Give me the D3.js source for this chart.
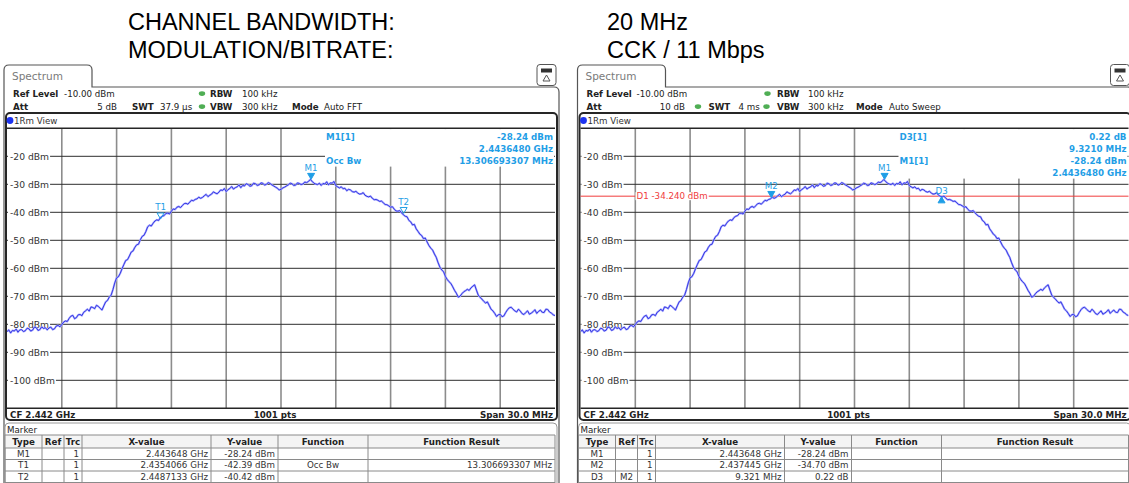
<!DOCTYPE html>
<meta charset="utf-8">
<head>
<style>
  body { margin: 0; background: #fff; }
  svg { display: block; font-family: "DejaVu Sans", Verdana, sans-serif; }
</style>
</head>
<script src="https://cdn.jsdelivr.net/npm/d3@7"></script>
<body>
<div id="chart"></div>
<script>
// ---- data ----
var titleLabels = ["CHANNEL BANDWIDTH:", "MODULATION/BITRATE:"];
var titleValues = ["20 MHz", "CCK / 11 Mbps"];

// level axis (dBm), ref level -10, 10 dB/div
var yDomain = [-110, -10];
var yTicks = [-20, -30, -40, -50, -60, -70, -80, -90, -100];
// frequency offset from CF 2.442 GHz (MHz), span 30 MHz, 3 MHz/div
var xDomain = [-15, 15];
var xTicks = [-12, -9, -6, -3, 0, 3, 6, 9, 12];

// trace 1 (same sweep in both screens): [offset MHz, dBm]
var trace = [
  [-15.0, -82.6], [-14.9, -82.0], [-14.8, -83.1], [-14.7, -82.2], [-14.6, -82.4], [-14.5, -81.7],
  [-14.4, -82.8], [-14.3, -82.0], [-14.2, -81.9], [-14.1, -82.6], [-14.0, -82.3], [-13.9, -81.4],
  [-13.8, -81.6], [-13.7, -82.4], [-13.6, -82.1], [-13.5, -81.0], [-13.4, -81.2], [-13.3, -82.2],
  [-13.2, -81.9], [-13.1, -80.9], [-13.0, -81.5], [-12.9, -81.2], [-12.8, -82.0], [-12.7, -81.3],
  [-12.6, -81.0], [-12.5, -81.9], [-12.4, -81.6], [-12.3, -80.6], [-12.2, -80.4], [-12.1, -80.9],
  [-12.0, -80.1], [-11.9, -79.2], [-11.8, -78.8], [-11.7, -79.0], [-11.6, -77.9], [-11.5, -77.1],
  [-11.4, -76.8], [-11.3, -78.0], [-11.2, -77.6], [-11.1, -76.6], [-11.0, -76.5], [-10.9, -76.9],
  [-10.8, -75.7], [-10.7, -75.2], [-10.6, -74.6], [-10.5, -75.3], [-10.4, -73.8], [-10.3, -74.0],
  [-10.2, -74.4], [-10.1, -73.2], [-10.0, -73.6], [-9.9, -74.3], [-9.8, -74.9], [-9.7, -73.4],
  [-9.6, -72.0], [-9.5, -71.5], [-9.4, -70.3], [-9.3, -69.6], [-9.2, -67.6], [-9.1, -65.2],
  [-9.0, -63.4], [-8.9, -63.0], [-8.8, -61.8], [-8.7, -60.1], [-8.6, -58.6], [-8.5, -57.2],
  [-8.4, -56.9], [-8.3, -55.6], [-8.2, -54.2], [-8.1, -53.8], [-8.0, -52.5], [-7.9, -51.6],
  [-7.8, -51.4], [-7.7, -49.8], [-7.6, -48.6], [-7.5, -48.2], [-7.4, -46.9], [-7.3, -45.2],
  [-7.2, -44.6], [-7.1, -44.9], [-7.0, -43.9], [-6.9, -43.1], [-6.8, -42.7], [-6.7, -42.9],
  [-6.6, -41.9], [-6.5, -41.4], [-6.4, -41.2], [-6.3, -40.4], [-6.2, -40.3], [-6.1, -40.6],
  [-6.0, -39.6], [-5.9, -38.8], [-5.8, -39.0], [-5.7, -38.2], [-5.6, -37.9], [-5.5, -38.3],
  [-5.4, -37.6], [-5.3, -36.9], [-5.2, -36.8], [-5.1, -37.1], [-5.0, -36.4], [-4.9, -35.7],
  [-4.8, -35.9], [-4.7, -35.4], [-4.6, -35.2], [-4.5, -34.6], [-4.4, -35.0], [-4.3, -34.7],
  [-4.2, -34.1], [-4.1, -33.6], [-4.0, -34.4], [-3.9, -33.9], [-3.8, -33.5], [-3.7, -32.7],
  [-3.6, -33.1], [-3.5, -33.4], [-3.4, -32.8], [-3.3, -32.0], [-3.2, -32.2], [-3.1, -31.5],
  [-3.0, -32.6], [-2.9, -31.9], [-2.8, -31.5], [-2.7, -30.8], [-2.6, -31.7], [-2.5, -31.2],
  [-2.4, -30.9], [-2.3, -30.2], [-2.2, -31.2], [-2.1, -30.4], [-2.0, -30.6], [-1.9, -29.8],
  [-1.8, -30.1], [-1.7, -30.7], [-1.6, -30.5], [-1.5, -29.6], [-1.4, -29.8], [-1.3, -30.4],
  [-1.2, -30.2], [-1.1, -29.5], [-1.0, -29.6], [-0.9, -30.3], [-0.8, -30.0], [-0.7, -29.4],
  [-0.6, -29.7], [-0.5, -30.2], [-0.4, -30.6], [-0.3, -31.0], [-0.2, -31.4], [-0.1, -32.0],
  [0.0, -31.8], [0.1, -31.3], [0.2, -31.0], [0.3, -30.6], [0.4, -30.2], [0.5, -29.6],
  [0.6, -29.8], [0.7, -30.4], [0.8, -30.3], [0.9, -29.5], [1.0, -29.7], [1.1, -30.1],
  [1.2, -29.9], [1.3, -29.2], [1.4, -29.4], [1.5, -29.0], [1.6, -28.3], [1.7, -28.9],
  [1.8, -29.6], [1.9, -29.9], [2.0, -30.1], [2.1, -29.6], [2.2, -30.4], [2.3, -29.7],
  [2.4, -29.9], [2.5, -29.1], [2.6, -30.2], [2.7, -29.5], [2.8, -29.6], [2.9, -29.0],
  [3.0, -30.5], [3.1, -30.9], [3.2, -31.3], [3.3, -30.9], [3.4, -31.6], [3.5, -31.4],
  [3.6, -32.3], [3.7, -31.8], [3.8, -32.0], [3.9, -32.6], [4.0, -32.8], [4.1, -32.5],
  [4.2, -33.1], [4.3, -33.5], [4.4, -33.4], [4.5, -33.0], [4.6, -33.9], [4.7, -34.3],
  [4.8, -34.5], [4.9, -34.2], [5.0, -35.0], [5.1, -35.5], [5.2, -35.4], [5.3, -35.7],
  [5.4, -36.1], [5.5, -36.0], [5.6, -36.6], [5.7, -37.2], [5.8, -37.3], [5.9, -37.7],
  [6.0, -38.2], [6.1, -38.0], [6.2, -38.9], [6.3, -39.5], [6.4, -39.6], [6.5, -39.4],
  [6.6, -40.2], [6.7, -40.9], [6.8, -41.4], [6.9, -41.6], [7.0, -42.9], [7.1, -43.4],
  [7.2, -44.5], [7.3, -44.3], [7.4, -45.9], [7.5, -46.8], [7.6, -47.8], [7.7, -48.3],
  [7.8, -49.4], [7.9, -49.2], [8.0, -50.6], [8.1, -51.9], [8.2, -52.8], [8.3, -53.5],
  [8.4, -54.9], [8.5, -56.1], [8.6, -58.0], [8.7, -59.6], [8.8, -60.6], [8.9, -61.2],
  [9.0, -62.9], [9.1, -64.0], [9.2, -64.8], [9.3, -65.4], [9.4, -66.6], [9.5, -67.9],
  [9.6, -68.9], [9.7, -70.3], [9.8, -70.0], [9.9, -69.1], [10.0, -68.4], [10.1, -68.0],
  [10.2, -67.5], [10.3, -67.9], [10.4, -67.0], [10.5, -66.4], [10.6, -65.9], [10.7, -67.8],
  [10.8, -69.6], [10.9, -70.4], [11.0, -71.0], [11.1, -71.8], [11.2, -72.4], [11.3, -72.0],
  [11.4, -73.3], [11.5, -74.6], [11.6, -75.2], [11.7, -76.1], [11.8, -77.2], [11.9, -76.6],
  [12.0, -76.4], [12.1, -77.3], [12.2, -77.0], [12.3, -75.8], [12.4, -74.8], [12.5, -74.1],
  [12.6, -73.9], [12.7, -74.6], [12.8, -75.2], [12.9, -75.6], [13.0, -74.6], [13.1, -75.3],
  [13.2, -76.2], [13.3, -76.5], [13.4, -75.8], [13.5, -75.2], [13.6, -76.4], [13.7, -76.0],
  [13.8, -75.5], [13.9, -74.8], [14.0, -76.1], [14.1, -75.4], [14.2, -74.9], [14.3, -75.7],
  [14.4, -75.8], [14.5, -74.6], [14.6, -74.7], [14.7, -75.6], [14.8, -76.0], [14.9, -76.6],
  [15.0, -76.9]
];

// markers: name, offset MHz, level dBm, symbol
var leftMarkers = [
  { name: "M1", f: 1.648, dbm: -28.24, sym: "down" },
  { name: "T1", f: -6.5934, dbm: -42.39, sym: "hollow" },
  { name: "T2", f: 6.7133, dbm: -40.42, sym: "hollow" }
];
var rightMarkers = [
  { name: "M1", f: 1.648, dbm: -28.24, sym: "down" },
  { name: "M2", f: -4.555, dbm: -34.70, sym: "down" },
  { name: "D3", f: 4.766, dbm: -34.48, sym: "up" }
];
var rightDisplayLine = { name: "D1", dbm: -34.24, label: "D1  -34.240 dBm" };

// marker readouts in the upper right of the diagram
var leftReadout = [
  ["M1[1]", "-28.24 dBm"], ["", "2.4436480 GHz"], ["Occ Bw", "13.306693307 MHz"]
];
var rightReadout = [
  ["D3[1]", "0.22 dB"], ["", "9.3210 MHz"], ["M1[1]", "-28.24 dBm"], ["", "2.4436480 GHz"]
];

// marker tables
var tableHead = ["Type", "Ref", "Trc", "X-value", "Y-value", "Function", "Function Result"];
var leftTable = [
  ["M1", "", "1", "2.443648 GHz", "-28.24 dBm", "", ""],
  ["T1", "", "1", "2.4354066 GHz", "-42.39 dBm", "Occ Bw", "13.306693307 MHz"],
  ["T2", "", "1", "2.4487133 GHz", "-40.42 dBm", "", ""]
];
var rightTable = [
  ["M1", "", "1", "2.443648 GHz", "-28.24 dBm", "", ""],
  ["M2", "", "1", "2.437445 GHz", "-34.70 dBm", "", ""],
  ["D3", "M2", "1", "9.321 MHz", "0.22 dB", "", ""]
];

// setting bars: [text, x, row, bold, anchor]
var leftSettings = [
  ["Ref Level", 13, 0, true], ["-10.00 dBm", 64, 0], ["RBW", 210, 0, true], ["100 kHz", 242, 0],
  ["Att", 13, 1, true], ["5 dB", 117, 1, false, "end"], ["SWT", 132, 1, true], ["37.9 \u00b5s", 160, 1],
  ["VBW", 210, 1, true], ["300 kHz", 242, 1], ["Mode", 292, 1, true], ["Auto FFT", 324, 1]
];
var leftDots = [[202, 0], [202, 1]];
var rightSettings = [
  ["Ref Level", 13, 0, true], ["-10.00 dBm", 63, 0], ["RBW", 203.5, 0, true], ["100 kHz", 234.5, 0],
  ["Att", 13, 1, true], ["10 dB", 111.5, 1, false, "end"], ["SWT", 135, 1, true], ["4 ms", 165, 1],
  ["VBW", 203.5, 1, true], ["300 kHz", 234.5, 1], ["Mode", 282.5, 1, true], ["Auto Sweep", 315.5, 1]
];
var rightDots = [[194, 0], [124.5, 1], [193, 1]];

// ---- drawing ----
var W = 1129, H = 483;
var svg = d3.select("#chart").append("svg")
  .attr("width", W).attr("height", H);

svg.append("rect").attr("width", W).attr("height", H).attr("fill", "#fff");

// title block
var title = svg.append("g").style("font-family", "'Liberation Sans', Arial, sans-serif")
  .style("font-size", "23.5px");
titleLabels.forEach(function(t, i) {
  title.append("text").attr("x", 128).attr("y", 30 + i * 28).text(t);
});
titleValues.forEach(function(t, i) {
  title.append("text").attr("x", 607).attr("y", 30 + i * 28).text(t);
});

var blue = "#1f9ee6";
var plotL = 7, plotR = 555, plotT = 128.3, plotB = 408.3;

function drawPanel(ox, cfg) {
  var g = svg.append("g").attr("transform", "translate(" + ox + ",0)");

  var x = d3.scaleLinear().domain(xDomain).range([plotL, plotR]);
  var y = d3.scaleLinear().domain(yDomain).range([plotB, plotT]);

  // outer window outline with the "Spectrum" tab
  g.append("path")
    .attr("d", "M4,490 L4,70 Q4,65 9,65 L87,65 Q92,65 92,70 L92,87 L554,87 Q559,87 559,92 L559,490")
    .attr("fill", "none").attr("stroke", "#555").attr("stroke-width", 1.2);
  g.append("text").attr("x", 12).attr("y", 80).attr("fill", "#7a7a7a")
    .style("font-size", "10.5px").text("Spectrum");

  // small icon top right
  var ic = g.append("g");
  ic.append("rect").attr("x", 537).attr("y", 64.5).attr("width", 19).attr("height", 21).attr("rx", 3)
    .attr("fill", "#fff").attr("stroke", "#555");
  ic.append("rect").attr("x", 541).attr("y", 68.5).attr("width", 11).attr("height", 4).attr("fill", "#333");
  ic.append("path").attr("d", "M546.5,75 L543,81 L550,81 Z").attr("fill", "none").attr("stroke", "#555");

  // setting rows
  cfg.settings.forEach(function(s) {
    g.append("text").attr("x", s[1]).attr("y", 96.5 + s[2] * 13)
      .attr("text-anchor", s[4] || "start")
      .attr("fill", "#222")
      .style("font-size", "8.7px")
      .style("font-weight", s[3] ? "bold" : "normal")
      .text(s[0]);
  });
  cfg.dots.forEach(function(d) {
    g.append("ellipse").attr("cx", d[0]).attr("cy", 93.6 + d[1] * 13)
      .attr("rx", 3.2).attr("ry", 2.3).attr("fill", "#4fae54");
  });

  // diagram frame
  g.append("rect").attr("x", 6).attr("y", 113).attr("width", 551).attr("height", 307).attr("rx", 4)
    .attr("fill", "#fff").attr("stroke", "#262626").attr("stroke-width", 2);
  g.append("circle").attr("cx", 10).attr("cy", 120.5).attr("r", 3.4).attr("fill", "#1d33f0");
  g.append("text").attr("x", 14).attr("y", 123.5).attr("fill", "#333").style("font-size", "8.7px").text("1Rm View");

  // grid
  g.append("g").selectAll("line").data(xTicks).join("line")
    .attr("x1", function(d) { return x(d); }).attr("x2", function(d) { return x(d); })
    .attr("y1", plotT).attr("y2", plotB)
    .attr("stroke", "#8c8c8c").attr("stroke-width", 1.6);
  g.append("g").selectAll("line").data(yTicks).join("line")
    .attr("x1", plotL).attr("x2", plotR)
    .attr("y1", function(d) { return y(d); }).attr("y2", function(d) { return y(d); })
    .attr("stroke", "#2e2e2e").attr("stroke-width", 1);
  g.append("line").attr("x1", plotL).attr("x2", plotR).attr("y1", plotT).attr("y2", plotT)
    .attr("stroke", "#262626").attr("stroke-width", 1.4);
  g.append("line").attr("x1", plotL).attr("x2", plotR).attr("y1", plotB).attr("y2", plotB)
    .attr("stroke", "#262626").attr("stroke-width", 1.4);

  // readout box covers the grid
  g.append("rect").attr("x", 325).attr("y", plotT + 0.8)
    .attr("width", plotR - 325 - 1).attr("height", cfg.readout.length * 12 + 1.5).attr("fill", "#fff");

  // level labels
  var yl = g.append("g");
  yTicks.forEach(function(d) {
    var t = yl.append("text").attr("x", 10).attr("y", y(d) + 3.2)
      .attr("fill", "#333").style("font-size", "9.2px").text(d + " dBm");
    var bb = t.node().getBBox();
    yl.insert("rect", "text").attr("x", 8).attr("y", y(d) - 4)
      .attr("width", bb.x + bb.width - 8 + 1).attr("height", 8).attr("fill", "#fff");
  });

  // display line
  if (cfg.dline) {
    g.append("line").attr("x1", plotL).attr("x2", plotR)
      .attr("y1", y(cfg.dline.dbm)).attr("y2", y(cfg.dline.dbm))
      .attr("stroke", "#f03c3c").attr("stroke-width", 1);
    var dt = g.append("text").attr("x", 63).attr("y", y(cfg.dline.dbm) + 3)
      .attr("fill", "#f03c3c").style("font-size", "8.7px").text(cfg.dline.label);
    var db = dt.node().getBBox();
    g.insert("rect", function() { return dt.node(); })
      .attr("x", db.x - 1).attr("y", db.y + 1).attr("width", db.width + 2).attr("height", db.height - 2)
      .attr("fill", "#fff");
  }

  // trace
  var clipId = "clip" + Math.round(ox);
  g.append("clipPath").attr("id", clipId).append("rect")
    .attr("x", plotL).attr("y", plotT).attr("width", plotR - plotL).attr("height", plotB - plotT);
  var line = d3.line().x(function(d) { return x(d[0]); }).y(function(d) { return y(d[1]); });
  var tg = g.append("g").attr("clip-path", "url(#" + clipId + ")");
  tg.append("path").datum(trace).attr("d", line).attr("fill", "none")
    .attr("stroke", "#a9adff").attr("stroke-width", 2).attr("stroke-linejoin", "round");
  tg.append("path").datum(trace).attr("d", line).attr("fill", "none")
    .attr("stroke", "#2c2ce0").attr("stroke-width", 0.9).attr("stroke-linejoin", "round");

  // markers
  cfg.markers.forEach(function(m) {
    var mx = x(m.f), my = y(m.dbm);
    var p, ly;
    if (m.sym === "up") {
      p = "M" + mx + "," + my + " l-3.5,6 l7,0 z";
      ly = my - 3;
    } else {
      p = "M" + mx + "," + my + " l-3.5,-6 l7,0 z";
      ly = my - 8.5;
    }
    g.append("path").attr("d", p)
      .attr("fill", m.sym === "hollow" ? "none" : blue)
      .attr("stroke", blue).attr("stroke-width", 1);
    g.append("text").attr("x", mx).attr("y", ly).attr("text-anchor", "middle")
      .attr("fill", blue).style("font-size", "8.7px").text(m.name);
  });

  // readout text
  cfg.readout.forEach(function(r, i) {
    if (r[0]) g.append("text").attr("x", 326).attr("y", 139.5 + i * 12)
      .attr("fill", blue).style("font-size", "8.7px").style("font-weight", "bold").text(r[0]);
    g.append("text").attr("x", 553).attr("y", 139.5 + i * 12).attr("text-anchor", "end")
      .attr("fill", blue).style("font-size", "8.7px").style("font-weight", "bold").text(r[1]);
  });

  // footer of the diagram
  var foot = [["CF 2.442 GHz", 10, "start"], ["1001 pts", 275, "middle"], ["Span 30.0 MHz", 553, "end"]];
  foot.forEach(function(f) {
    g.append("text").attr("x", f[1]).attr("y", 417.5).attr("text-anchor", f[2])
      .attr("fill", "#222").style("font-size", "8.7px").style("font-weight", "bold").text(f[0]);
  });

  // marker table
  g.append("rect").attr("x", 5).attr("y", 423).attr("width", 552).attr("height", 80).attr("rx", 4)
    .attr("fill", "#fff").attr("stroke", "#9a9a9a");
  g.append("text").attr("x", 7).attr("y", 432.5).attr("fill", "#222").style("font-size", "8.7px").text("Marker");

  var cols = [5, 42, 64, 82, 211, 278, 368, 555];
  var anchors = ["middle", "middle", "end", "end", "end", "middle", "end"];
  var rowY = [435, 448, 459.5, 471, 482.5];
  var tb = g.append("g");
  tb.append("rect").attr("x", cols[0]).attr("y", rowY[0]).attr("width", cols[7] - cols[0])
    .attr("height", rowY[1] - rowY[0]).attr("fill", "#f4f4f4");
  rowY.forEach(function(ry) {
    tb.append("line").attr("x1", cols[0]).attr("x2", cols[7]).attr("y1", ry).attr("y2", ry)
      .attr("stroke", "#8a8a8a");
  });
  cols.forEach(function(cx) {
    tb.append("line").attr("x1", cx).attr("x2", cx).attr("y1", rowY[0]).attr("y2", H)
      .attr("stroke", "#8a8a8a");
  });
  tableHead.forEach(function(h, j) {
    tb.append("text").attr("x", (cols[j] + cols[j + 1]) / 2).attr("y", 445)
      .attr("text-anchor", "middle").attr("fill", "#222")
      .style("font-size", "8.7px").style("font-weight", "bold").text(h);
  });
  cfg.table.forEach(function(row, i) {
    row.forEach(function(v, j) {
      if (!v) return;
      var a = anchors[j];
      var tx = a === "middle" ? (cols[j] + cols[j + 1]) / 2 : cols[j + 1] - 3;
      tb.append("text").attr("x", tx).attr("y", 456.8 + i * 11.5).attr("text-anchor", a)
        .attr("fill", "#333").style("font-size", "8.7px").text(v);
    });
  });
}

drawPanel(0, {
  settings: leftSettings, dots: leftDots, markers: leftMarkers,
  readout: leftReadout, table: leftTable
});
drawPanel(573.5, {
  settings: rightSettings, dots: rightDots, markers: rightMarkers,
  readout: rightReadout, table: rightTable, dline: rightDisplayLine
});
</script>
</body>
